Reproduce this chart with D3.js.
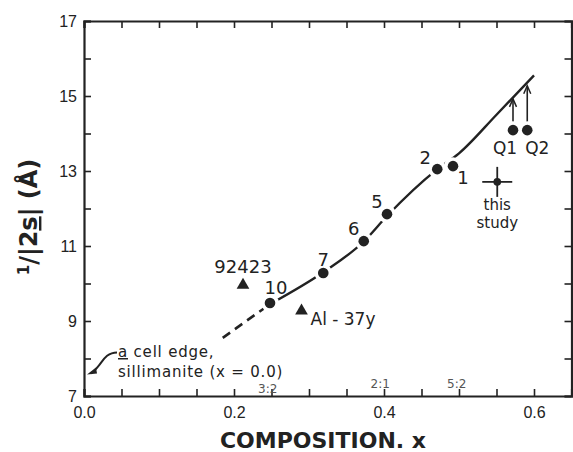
<!doctype html>
<html lang="en">
<head>
  <meta charset="utf-8">
  <title>1/|2s| vs composition</title>
  <script src="https://d3js.org/d3.v7.min.js"></script>
  <style>
    body { margin: 0; background: #fff; }
    svg { display: block; font-family: "DejaVu Sans", sans-serif; }
    .axis path, .axis line { stroke: #222; }
    .axis text { fill: #222; font-size: 16px; }
  </style>
</head>
<body>
<svg id="chart" width="573" height="452"></svg>
<script>
  // sample points (circles)
  const pointIds = ["10", "7", "6", "5", "2", "1", "Q1", "Q2"];
  const pointX = [0.248, 0.319, 0.373, 0.404, 0.471, 0.492, 0.572, 0.591];
  const pointY = [9.48, 10.28, 11.13, 11.85, 13.05, 13.13, 14.09, 14.09];

  // where the Q1 / Q2 arrows end (on the curve)
  const arrowIds = ["Q1", "Q2"];
  const arrowTopY = [14.95, 15.3];

  // triangles
  const triIds = ["92423", "Al - 37y"];
  const triX = [0.212, 0.29];
  const triY = [9.96, 9.27];

  // this study, with error bars
  const studyX = 0.551, studyY = 12.71, studyErrX = 0.02, studyErrY = 0.4;

  // fitted curve, dashed part then solid part
  const dashX = [0.185, 0.215, 0.248];
  const dashY = [8.55, 8.98, 9.45];
  const fitX = [0.248, 0.319, 0.373, 0.404, 0.47, 0.50, 0.55, 0.60];
  const fitY = [9.45, 10.3, 11.12, 11.8, 13.03, 13.47, 14.5, 15.55];

  // sillimanite a cell edge at x = 0
  const sillX = 0.0, sillY = 7.55;

  // ratio labels near the x axis
  const ratioLabels = ["3:2", "2:1", "5:2"];
  const ratioX = [0.245, 0.395, 0.497];

  const xTicks = d3.range(0, 0.651, 0.05);
  const yTicks = d3.range(7, 18);

  const svg = d3.select("#chart");
  const x = d3.scaleLinear().domain([0, 0.65]).range([84, 571.5]);
  const y = d3.scaleLinear().domain([7, 17]).range([396, 21]);
  const ink = "#222";

  // axes, ticks pointing inward
  svg.append("g").attr("class", "axis")
    .attr("transform", `translate(0,${y(7)})`)
    .call(d3.axisBottom(x).tickValues(xTicks).tickSize(-7).tickPadding(11)
      .tickFormat(d => (Math.round(d * 100) % 20 === 0) ? d.toFixed(1) : ""));
  svg.append("g").attr("class", "axis")
    .attr("transform", `translate(0,${y(17)})`)
    .call(d3.axisTop(x).tickValues(xTicks).tickSize(-7).tickFormat(""));
  svg.append("g").attr("class", "axis")
    .attr("transform", `translate(${x(0)},0)`)
    .call(d3.axisLeft(y).tickValues(yTicks).tickSize(-7).tickPadding(7)
      .tickFormat(d => d % 2 ? d : ""));
  svg.append("g").attr("class", "axis")
    .attr("transform", `translate(${x(0.65)},0)`)
    .call(d3.axisRight(y).tickValues(yTicks).tickSize(-7).tickFormat(""));
  svg.selectAll(".axis path").attr("stroke-width", 2.2);
  svg.selectAll(".axis line").attr("stroke-width", 1.6);

  // ratio labels
  svg.selectAll(".ratio").data(ratioLabels).join("text")
    .attr("x", (d, i) => x(ratioX[i]))
    .attr("y", (d, i) => i === 0 ? 393 : 388)
    .attr("text-anchor", "middle")
    .attr("font-size", 12).attr("fill", "#555")
    .text(d => d);

  // fitted curve
  const line = d3.line().x(d => x(d[0])).y(d => y(d[1])).curve(d3.curveMonotoneX);
  svg.append("path").datum(dashX.map((v, i) => [v, dashY[i]]))
    .attr("d", line).attr("fill", "none").attr("stroke", ink)
    .attr("stroke-width", 2.6).attr("stroke-dasharray", "9,6");
  svg.append("path").datum(fitX.map((v, i) => [v, fitY[i]]))
    .attr("d", line).attr("fill", "none").attr("stroke", ink)
    .attr("stroke-width", 2.4);

  // arrows from Q1/Q2 up to the curve
  svg.append("defs").append("marker")
    .attr("id", "head").attr("markerUnits", "userSpaceOnUse")
    .attr("viewBox", "-10 -5 12 10").attr("refX", 0).attr("refY", 0)
    .attr("markerWidth", 12).attr("markerHeight", 10).attr("orient", "auto")
    .append("path").attr("d", "M-8,-3.5 L0,0 L-8,3.5").attr("fill", "none")
    .attr("stroke", ink).attr("stroke-width", 1.5);
  arrowIds.forEach((id, k) => {
    const i = pointIds.indexOf(id);
    svg.append("line")
      .attr("x1", x(pointX[i])).attr("y1", y(pointY[i]) - 6)
      .attr("x2", x(pointX[i])).attr("y2", y(arrowTopY[k]) + 1)
      .attr("stroke", ink).attr("stroke-width", 1.6)
      .attr("marker-end", "url(#head)");
  });

  // points: white halo to break the line, then the dot
  const pts = pointIds.map((id, i) => ({ id, x: pointX[i], y: pointY[i] }));
  svg.selectAll(".halo").data(pts).join("circle")
    .attr("cx", d => x(d.x)).attr("cy", d => y(d.y)).attr("r", 9).attr("fill", "#fff");
  svg.selectAll(".dot").data(pts).join("circle")
    .attr("cx", d => x(d.x)).attr("cy", d => y(d.y)).attr("r", 5.3).attr("fill", ink);

  // point labels
  const labelOff = { "10": [6, -15], "7": [0, -13], "6": [-10, -12], "5": [-10, -12],
    "2": [-12, -11], "1": [10, 12], "Q1": [-8, 18], "Q2": [10, 18] };
  svg.selectAll(".plab").data(pts).join("text")
    .attr("x", d => x(d.x) + labelOff[d.id][0])
    .attr("y", d => y(d.y) + labelOff[d.id][1] + 6)
    .attr("text-anchor", "middle").attr("font-size", d => d.id[0] === "Q" ? 17 : 18)
    .attr("fill", ink).text(d => d.id);

  // triangles
  const tri = d3.symbol().type(d3.symbolTriangle).size(70);
  triIds.forEach((id, i) => {
    svg.append("path").attr("d", tri)
      .attr("transform", `translate(${x(triX[i])},${y(triY[i])})`).attr("fill", ink);
  });
  svg.append("text").attr("x", x(triX[0])).attr("y", y(triY[0]) - 12)
    .attr("text-anchor", "middle").attr("font-size", 18).attr("fill", ink).text(triIds[0]);
  svg.append("text").attr("x", x(triX[1]) + 9).attr("y", y(triY[1]) + 14)
    .attr("font-size", 17).attr("fill", ink).text(triIds[1]);

  // this study
  const sx = x(studyX), sy = y(studyY);
  svg.append("line").attr("x1", x(studyX - studyErrX)).attr("x2", x(studyX + studyErrX))
    .attr("y1", sy).attr("y2", sy).attr("stroke", ink).attr("stroke-width", 1.8);
  svg.append("line").attr("x1", sx).attr("x2", sx)
    .attr("y1", y(studyY - studyErrY)).attr("y2", y(studyY + studyErrY))
    .attr("stroke", ink).attr("stroke-width", 1.8);
  svg.append("circle").attr("cx", sx).attr("cy", sy).attr("r", 3.8).attr("fill", ink);
  svg.append("text").attr("x", sx).attr("y", sy + 28).attr("text-anchor", "middle")
    .attr("font-size", 15).attr("fill", ink).text("this");
  svg.append("text").attr("x", sx).attr("y", sy + 46).attr("text-anchor", "middle")
    .attr("font-size", 15).attr("fill", ink).text("study");

  // sillimanite annotation
  const ax = x(sillX) + 3, ay = y(sillY) - 1;
  svg.append("path")
    .attr("d", `M${ax + 30},${ay - 22} C${ax + 20},${ay - 22} ${ax + 16},${ay - 14} ${ax + 12},${ay - 9} S${ax + 6},${ay - 2} ${ax + 4},${ay - 1}`)
    .attr("fill", "none").attr("stroke", ink).attr("stroke-width", 2);
  svg.append("path").attr("d", `M${ax},${ay} L${ax + 9},${ay - 7} L${ax + 10},${ay - 1} Z`)
    .attr("fill", ink);
  const note = svg.append("text").attr("font-size", 15).attr("fill", ink)
    .attr("letter-spacing", 0.8);
  const l1 = note.append("tspan").attr("x", 118).attr("y", 357);
  l1.append("tspan").attr("text-decoration", "underline").text("a");
  l1.append("tspan").text(" cell edge,");
  note.append("tspan").attr("x", 118).attr("y", 377).text("sillimanite (x = 0.0)");

  // axis titles
  svg.append("text").attr("x", 323).attr("y", 448).attr("text-anchor", "middle")
    .attr("font-size", 22).attr("font-weight", "bold").attr("fill", ink)
    .text("COMPOSITION. x");
  const yl = svg.append("text").attr("transform", "translate(37,217) rotate(-90)")
    .attr("text-anchor", "middle").attr("font-size", 24).attr("font-weight", "bold")
    .attr("fill", ink);
  yl.append("tspan").attr("font-size", 15).attr("dy", -8).text("1");
  yl.append("tspan").attr("dy", 8).text("/|2");
  yl.append("tspan").attr("text-decoration", "underline").text("s");
  yl.append("tspan").text("| (Å)");
</script>
</body>
</html>
